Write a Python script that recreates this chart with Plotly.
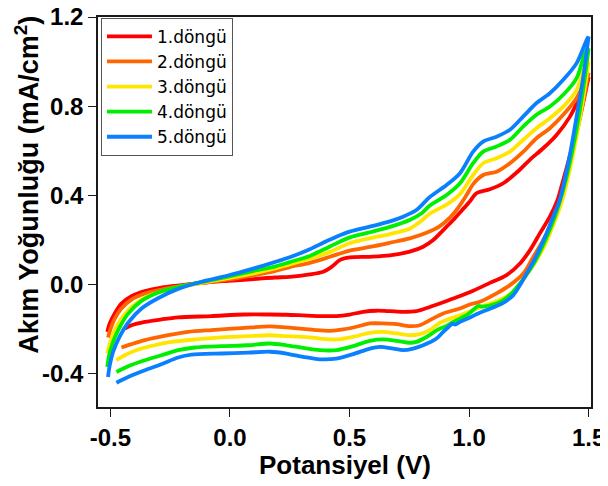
import plotly.graph_objects as go

# ---- data (potential in V, current density in mA/cm2) ----
labels = ["1.döngü", "2.döngü", "3.döngü", "4.döngü", "5.döngü"]
colors = ["#FF0000", "#FF6600", "#FFE600", "#00EE00", "#0A80FF"]

c1_fwd_x = [-0.513, -0.503, -0.482, -0.454, -0.412, -0.356, -0.287, -0.203, -0.119, -0.008, 0.10, 0.187, 0.250, 0.334, 0.390, 0.425, 0.459, 0.501, 0.585, 0.669, 0.752, 0.808, 0.850, 0.892, 0.934, 0.968, 1.003, 1.031, 1.087, 1.143, 1.199, 1.254, 1.310, 1.366, 1.422, 1.464, 1.492, 1.500]
c1_fwd_y = [-0.213, -0.175, -0.130, -0.086, -0.053, -0.030, -0.014, -0.003, 0.007, 0.016, 0.024, 0.031, 0.034, 0.045, 0.057, 0.079, 0.109, 0.121, 0.124, 0.130, 0.147, 0.169, 0.199, 0.244, 0.289, 0.330, 0.372, 0.409, 0.427, 0.454, 0.502, 0.559, 0.611, 0.671, 0.753, 0.843, 0.903, 0.930]
c1_rev_x = [1.500, 1.470, 1.440, 1.415, 1.394, 1.370, 1.338, 1.296, 1.255, 1.213, 1.157, 1.087, 1.017, 0.948, 0.892, 0.836, 0.780, 0.724, 0.669, 0.613, 0.557, 0.501, 0.445, 0.376, 0.306, 0.236, 0.167, 0.062, -0.078, -0.217, -0.287, -0.356, -0.412, -0.440]
c1_rev_y = [0.930, 0.780, 0.650, 0.550, 0.469, 0.379, 0.304, 0.229, 0.154, 0.094, 0.042, 0.007, -0.028, -0.058, -0.080, -0.101, -0.120, -0.123, -0.120, -0.118, -0.123, -0.135, -0.142, -0.142, -0.139, -0.136, -0.135, -0.135, -0.142, -0.148, -0.157, -0.168, -0.183, -0.198]

c2_fwd_x = [-0.510, -0.499, -0.482, -0.454, -0.412, -0.356, -0.287, -0.203, -0.119, -0.008, 0.10, 0.187, 0.250, 0.334, 0.418, 0.501, 0.585, 0.669, 0.752, 0.822, 0.878, 0.920, 0.955, 0.989, 1.017, 1.059, 1.115, 1.171, 1.227, 1.282, 1.338, 1.394, 1.450, 1.485, 1.500]
c2_fwd_y = [-0.238, -0.198, -0.153, -0.108, -0.068, -0.041, -0.023, -0.007, 0.006, 0.022, 0.042, 0.060, 0.078, 0.097, 0.124, 0.152, 0.168, 0.187, 0.207, 0.232, 0.262, 0.300, 0.345, 0.400, 0.450, 0.491, 0.506, 0.544, 0.596, 0.656, 0.701, 0.761, 0.836, 0.918, 0.950]
c2_rev_x = [1.500, 1.470, 1.440, 1.410, 1.380, 1.352, 1.310, 1.269, 1.227, 1.171, 1.115, 1.045, 1.003, 0.962, 0.892, 0.836, 0.794, 0.752, 0.697, 0.641, 0.585, 0.529, 0.473, 0.418, 0.362, 0.306, 0.236, 0.167, 0.062, -0.078, -0.175, -0.259, -0.356, -0.412, -0.454]
c2_rev_y = [0.950, 0.780, 0.630, 0.500, 0.364, 0.289, 0.199, 0.124, 0.049, -0.003, -0.040, -0.078, -0.090, -0.108, -0.130, -0.160, -0.183, -0.187, -0.178, -0.175, -0.175, -0.190, -0.202, -0.208, -0.205, -0.199, -0.193, -0.188, -0.195, -0.205, -0.213, -0.228, -0.250, -0.268, -0.283]

c3_fwd_x = [-0.513, -0.503, -0.482, -0.454, -0.412, -0.356, -0.287, -0.203, -0.119, -0.008, 0.10, 0.187, 0.250, 0.334, 0.418, 0.501, 0.585, 0.669, 0.752, 0.800, 0.836, 0.906, 0.962, 1.017, 1.059, 1.115, 1.171, 1.227, 1.282, 1.338, 1.394, 1.450, 1.485, 1.500]
c3_fwd_y = [-0.310, -0.266, -0.206, -0.153, -0.101, -0.059, -0.032, -0.010, 0.007, 0.028, 0.050, 0.072, 0.090, 0.115, 0.146, 0.185, 0.207, 0.226, 0.250, 0.285, 0.318, 0.358, 0.405, 0.491, 0.544, 0.566, 0.596, 0.649, 0.701, 0.746, 0.798, 0.873, 0.978, 1.000]
c3_rev_x = [1.500, 1.475, 1.447, 1.420, 1.393, 1.366, 1.338, 1.310, 1.282, 1.255, 1.220, 1.185, 1.150, 1.108, 1.059, 1.017, 0.962, 0.906, 0.878, 0.836, 0.794, 0.752, 0.697, 0.641, 0.585, 0.515, 0.445, 0.376, 0.306, 0.236, 0.167, 0.076, -0.036, -0.147, -0.245, -0.315, -0.384, -0.440, -0.475]
c3_rev_y = [1.000, 0.820, 0.650, 0.510, 0.390, 0.304, 0.229, 0.162, 0.109, 0.064, 0.012, -0.033, -0.058, -0.078, -0.097, -0.115, -0.138, -0.160, -0.172, -0.205, -0.223, -0.228, -0.220, -0.213, -0.217, -0.235, -0.247, -0.243, -0.235, -0.232, -0.228, -0.232, -0.238, -0.247, -0.258, -0.273, -0.292, -0.318, -0.340]

c4_fwd_x = [-0.513, -0.507, -0.489, -0.461, -0.426, -0.370, -0.301, -0.217, -0.119, -0.008, 0.10, 0.187, 0.250, 0.334, 0.418, 0.501, 0.585, 0.669, 0.752, 0.800, 0.836, 0.906, 0.962, 1.017, 1.059, 1.115, 1.171, 1.227, 1.282, 1.338, 1.394, 1.450, 1.485, 1.500]
c4_fwd_y = [-0.370, -0.325, -0.258, -0.191, -0.131, -0.074, -0.036, -0.011, 0.010, 0.035, 0.061, 0.080, 0.100, 0.128, 0.170, 0.211, 0.234, 0.258, 0.289, 0.318, 0.354, 0.401, 0.454, 0.544, 0.596, 0.619, 0.649, 0.709, 0.761, 0.798, 0.851, 0.926, 1.039, 1.060]
c4_rev_x = [1.500, 1.478, 1.450, 1.420, 1.390, 1.359, 1.331, 1.303, 1.275, 1.248, 1.213, 1.178, 1.143, 1.108, 1.059, 1.038, 1.017, 0.990, 0.948, 0.906, 0.864, 0.822, 0.780, 0.752, 0.697, 0.641, 0.585, 0.515, 0.445, 0.376, 0.306, 0.236, 0.167, 0.076, -0.036, -0.147, -0.217, -0.287, -0.356, -0.426, -0.475]
c4_rev_y = [1.060, 0.880, 0.700, 0.540, 0.410, 0.304, 0.229, 0.162, 0.102, 0.057, 0.004, -0.040, -0.070, -0.088, -0.100, -0.097, -0.115, -0.138, -0.160, -0.186, -0.206, -0.236, -0.258, -0.262, -0.253, -0.247, -0.253, -0.277, -0.295, -0.295, -0.285, -0.273, -0.265, -0.273, -0.277, -0.283, -0.295, -0.318, -0.340, -0.367, -0.393]

c5_fwd_x = [-0.510, -0.503, -0.489, -0.461, -0.426, -0.370, -0.301, -0.217, -0.119, -0.008, 0.10, 0.187, 0.250, 0.334, 0.390, 0.445, 0.501, 0.585, 0.669, 0.724, 0.780, 0.836, 0.906, 0.962, 1.017, 1.059, 1.115, 1.171, 1.227, 1.282, 1.338, 1.394, 1.450, 1.492, 1.500]
c5_fwd_y = [-0.415, -0.363, -0.303, -0.233, -0.172, -0.108, -0.062, -0.020, 0.012, 0.040, 0.072, 0.100, 0.122, 0.158, 0.187, 0.214, 0.237, 0.259, 0.283, 0.304, 0.334, 0.392, 0.446, 0.499, 0.596, 0.641, 0.663, 0.694, 0.754, 0.814, 0.858, 0.918, 0.993, 1.098, 1.113]
c5_rev_x = [1.500, 1.478, 1.450, 1.425, 1.400, 1.378, 1.352, 1.324, 1.296, 1.269, 1.241, 1.213, 1.185, 1.150, 1.115, 1.073, 1.038, 1.004, 0.962, 0.941, 0.930, 0.915, 0.892, 0.864, 0.808, 0.766, 0.724, 0.683, 0.627, 0.585, 0.515, 0.445, 0.376, 0.306, 0.236, 0.167, 0.076, -0.036, -0.161, -0.217, -0.287, -0.356, -0.426, -0.475]
c5_rev_y = [1.113, 0.933, 0.754, 0.600, 0.470, 0.375, 0.304, 0.229, 0.162, 0.102, 0.049, -0.003, -0.048, -0.078, -0.097, -0.115, -0.130, -0.148, -0.168, -0.180, -0.176, -0.190, -0.213, -0.243, -0.273, -0.288, -0.295, -0.288, -0.280, -0.288, -0.313, -0.333, -0.336, -0.325, -0.310, -0.302, -0.306, -0.310, -0.315, -0.328, -0.358, -0.385, -0.415, -0.441]

x_tick_vals = [-0.5, 0.0, 0.5, 1.0, 1.5]
x_tick_text = ["-0.5", "0.0", "0.5", "1.0", "1.5"]
y_tick_vals = [-0.4, 0.0, 0.4, 0.8, 1.2]
y_tick_text = ["-0.4", "0.0", "0.4", "0.8", "1.2"]
x_title = "Potansiyel (V)"
y_title = "Akım Yoğunluğu (mA/cm<sup>2</sup>)"

cycles = [
    (c1_fwd_x, c1_fwd_y, c1_rev_x, c1_rev_y),
    (c2_fwd_x, c2_fwd_y, c2_rev_x, c2_rev_y),
    (c3_fwd_x, c3_fwd_y, c3_rev_x, c3_rev_y),
    (c4_fwd_x, c4_fwd_y, c4_rev_x, c4_rev_y),
    (c5_fwd_x, c5_fwd_y, c5_rev_x, c5_rev_y),
]

FONT = "Liberation Sans, Arial, sans-serif"

fig = go.Figure()
for i, (fx, fy, rx, ry) in enumerate(cycles):
    for j, (xs, ys) in enumerate([(fx, fy), (rx, ry)]):
        fig.add_trace(go.Scatter(
            x=xs, y=ys, mode="lines",
            line=dict(color=colors[i], width=3.8, shape="spline", smoothing=0.8),
            name=labels[i], legendgroup=labels[i], showlegend=(j == 0),
        ))

axis_common = dict(
    showline=True, mirror=True, linecolor="#1a1a1a", linewidth=1.5,
    showgrid=False, zeroline=False, ticks="outside", ticklen=8, tickwidth=1.3,
    tickcolor="#1a1a1a", automargin=False, ticklabeloverflow="allow",
    tickfont=dict(family=FONT, size=24, color="black", weight="bold"),
)

# page body keeps a default 8px margin, so the figure is 8px smaller
fig.update_layout(
    width=600, height=478,
    margin=dict(l=90, r=17, t=9, b=79, autoexpand=False),
    paper_bgcolor="white", plot_bgcolor="white",
    showlegend=True,
    legend=dict(
        x=0.006, y=0.998, xanchor="left", yanchor="top",
        bgcolor="white", bordercolor="#555555", borderwidth=1,
        font=dict(family="DejaVu Sans, sans-serif", size=17, color="black"),
        itemwidth=45, tracegroupgap=0,
    ),
    xaxis=dict(range=[-0.552, 1.51], tickvals=x_tick_vals, ticktext=x_tick_text, **axis_common),
    yaxis=dict(range=[-0.55, 1.2], tickvals=y_tick_vals, ticktext=y_tick_text, **axis_common),
    annotations=[
        dict(text=x_title, xref="paper", yref="paper", x=0.5, y=-0.1487,
             xanchor="center", yanchor="middle", showarrow=False,
             font=dict(family=FONT, size=26, color="black", weight="bold")),
        dict(text=y_title, xref="paper", yref="paper", x=-0.1447, y=0.569,
             xanchor="center", yanchor="middle", showarrow=False, textangle=-90,
             font=dict(family=FONT, size=27, color="black", weight="bold")),
    ],
)

fig.write_html("out.html")
